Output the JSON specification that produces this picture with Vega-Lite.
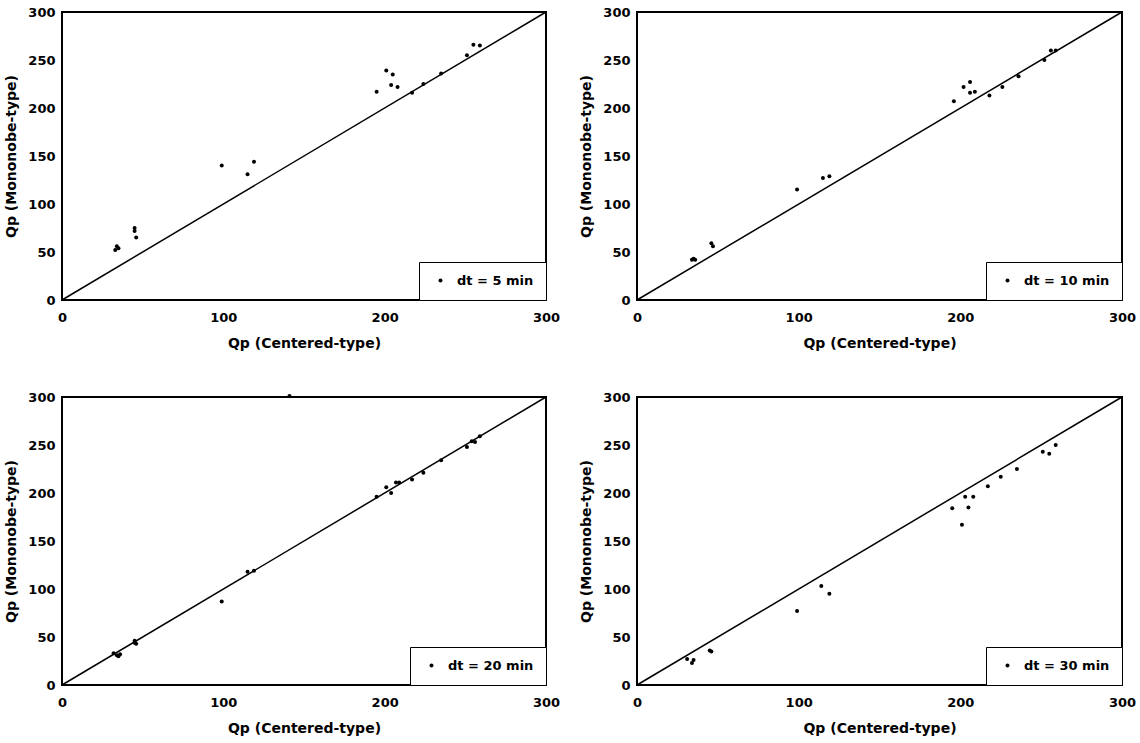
{
  "$schema": "https://vega.github.io/schema/vega-lite/v6.json",
  "autosize": {"type": "pad"},
  "padding": {"top": 5, "left": 3, "right": 5, "bottom": 5},
  "background": "white",
  "datasets": {
    "diag": [{"x": 0, "y": 0}, {"x": 300, "y": 300}],
    "p5": [
      {"x": 33, "y": 52, "dt": "dt = 5 min"}, {"x": 34, "y": 56, "dt": "dt = 5 min"}, {"x": 35, "y": 54, "dt": "dt = 5 min"},
      {"x": 45, "y": 75, "dt": "dt = 5 min"}, {"x": 45, "y": 72, "dt": "dt = 5 min"}, {"x": 46, "y": 65, "dt": "dt = 5 min"},
      {"x": 99, "y": 140, "dt": "dt = 5 min"}, {"x": 115, "y": 131, "dt": "dt = 5 min"}, {"x": 119, "y": 144, "dt": "dt = 5 min"},
      {"x": 195, "y": 217, "dt": "dt = 5 min"}, {"x": 201, "y": 239, "dt": "dt = 5 min"}, {"x": 205, "y": 235, "dt": "dt = 5 min"},
      {"x": 204, "y": 224, "dt": "dt = 5 min"}, {"x": 208, "y": 222, "dt": "dt = 5 min"}, {"x": 217, "y": 216, "dt": "dt = 5 min"},
      {"x": 224, "y": 225, "dt": "dt = 5 min"}, {"x": 235, "y": 236, "dt": "dt = 5 min"}, {"x": 251, "y": 255, "dt": "dt = 5 min"},
      {"x": 255, "y": 266, "dt": "dt = 5 min"}, {"x": 259, "y": 265, "dt": "dt = 5 min"}
    ],
    "p10": [
      {"x": 34, "y": 42, "dt": "dt = 10 min"}, {"x": 36, "y": 42, "dt": "dt = 10 min"}, {"x": 35, "y": 43, "dt": "dt = 10 min"},
      {"x": 46, "y": 59, "dt": "dt = 10 min"}, {"x": 47, "y": 56, "dt": "dt = 10 min"}, {"x": 99, "y": 115, "dt": "dt = 10 min"},
      {"x": 115, "y": 127, "dt": "dt = 10 min"}, {"x": 119, "y": 129, "dt": "dt = 10 min"}, {"x": 196, "y": 207, "dt": "dt = 10 min"},
      {"x": 202, "y": 222, "dt": "dt = 10 min"}, {"x": 206, "y": 227, "dt": "dt = 10 min"}, {"x": 206, "y": 216, "dt": "dt = 10 min"},
      {"x": 209, "y": 217, "dt": "dt = 10 min"}, {"x": 218, "y": 213, "dt": "dt = 10 min"}, {"x": 226, "y": 222, "dt": "dt = 10 min"},
      {"x": 236, "y": 233, "dt": "dt = 10 min"}, {"x": 252, "y": 250, "dt": "dt = 10 min"}, {"x": 256, "y": 260, "dt": "dt = 10 min"},
      {"x": 259, "y": 260, "dt": "dt = 10 min"}
    ],
    "p20": [
      {"x": 32, "y": 33, "dt": "dt = 20 min"}, {"x": 34, "y": 31, "dt": "dt = 20 min"}, {"x": 35, "y": 30, "dt": "dt = 20 min"},
      {"x": 36, "y": 32, "dt": "dt = 20 min"}, {"x": 45, "y": 46, "dt": "dt = 20 min"}, {"x": 46, "y": 43, "dt": "dt = 20 min"},
      {"x": 45, "y": 44, "dt": "dt = 20 min"}, {"x": 99, "y": 87, "dt": "dt = 20 min"}, {"x": 115, "y": 118, "dt": "dt = 20 min"},
      {"x": 119, "y": 119, "dt": "dt = 20 min"}, {"x": 141, "y": 301, "dt": "dt = 20 min"}, {"x": 195, "y": 196, "dt": "dt = 20 min"},
      {"x": 201, "y": 206, "dt": "dt = 20 min"}, {"x": 204, "y": 200, "dt": "dt = 20 min"}, {"x": 207, "y": 211, "dt": "dt = 20 min"},
      {"x": 209, "y": 211, "dt": "dt = 20 min"}, {"x": 217, "y": 214, "dt": "dt = 20 min"}, {"x": 224, "y": 221, "dt": "dt = 20 min"},
      {"x": 235, "y": 234, "dt": "dt = 20 min"}, {"x": 251, "y": 248, "dt": "dt = 20 min"}, {"x": 254, "y": 254, "dt": "dt = 20 min"},
      {"x": 256, "y": 253, "dt": "dt = 20 min"}, {"x": 259, "y": 259, "dt": "dt = 20 min"}
    ],
    "p30": [
      {"x": 31, "y": 27, "dt": "dt = 30 min"}, {"x": 34, "y": 23, "dt": "dt = 30 min"}, {"x": 35, "y": 26, "dt": "dt = 30 min"},
      {"x": 45, "y": 36, "dt": "dt = 30 min"}, {"x": 46, "y": 35, "dt": "dt = 30 min"}, {"x": 99, "y": 77, "dt": "dt = 30 min"},
      {"x": 114, "y": 103, "dt": "dt = 30 min"}, {"x": 119, "y": 95, "dt": "dt = 30 min"}, {"x": 195, "y": 184, "dt": "dt = 30 min"},
      {"x": 201, "y": 167, "dt": "dt = 30 min"}, {"x": 203, "y": 196, "dt": "dt = 30 min"}, {"x": 205, "y": 185, "dt": "dt = 30 min"},
      {"x": 208, "y": 196, "dt": "dt = 30 min"}, {"x": 217, "y": 207, "dt": "dt = 30 min"}, {"x": 225, "y": 217, "dt": "dt = 30 min"},
      {"x": 235, "y": 225, "dt": "dt = 30 min"}, {"x": 251, "y": 243, "dt": "dt = 30 min"}, {"x": 255, "y": 241, "dt": "dt = 30 min"},
      {"x": 259, "y": 250, "dt": "dt = 30 min"}
    ]
  },
  "config": {
    "view": {"stroke": "black", "strokeWidth": 2},
    "font": "DejaVu Sans",
    "axis": {
      "grid": false, "domain": false, "ticks": false, "tickSize": 0,
      "labelFont": "DejaVu Sans", "labelFontWeight": "bold", "labelFontSize": 13, "labelColor": "black",
      "titleFont": "DejaVu Sans", "titleFontWeight": "bold", "titleFontSize": 14, "titleColor": "black",
      "labelFlush": false, "labelOverlap": false
    },
    "axisX": {"labelPadding": 11, "titlePadding": 12},
    "axisY": {"labelPadding": 7, "titlePadding": 9},
    "legend": {
      "orient": "bottom-right", "offset": 0, "strokeColor": "black", "fillColor": "white",
      "padding": 12, "symbolOffset": 3, "labelOffset": 10, "symbolSize": 16, "symbolType": "circle",
      "labelFont": "DejaVu Sans", "labelFontWeight": "bold", "labelFontSize": 13, "labelColor": "black",
      "title": null
    }
  },
  "columns": 2,
  "spacing": {"row": 97, "column": 91},
  "bounds": "flush",
  "resolve": {"scale": {"color": "independent"}, "legend": {"color": "independent"}},
  "concat": [
    {
      "width": 484, "height": 288,
      "layer": [
        {"data": {"name": "diag"}, "mark": {"type": "line", "color": "black", "strokeWidth": 1.5},
         "encoding": {
           "x": {"field": "x", "type": "quantitative", "scale": {"domain": [0, 300], "nice": false}, "axis": {"values": [0, 100, 200, 300], "title": "Qp (Centered-type)"}},
           "y": {"field": "y", "type": "quantitative", "scale": {"domain": [0, 300], "nice": false}, "axis": {"values": [0, 50, 100, 150, 200, 250, 300], "title": "Qp (Mononobe-type)"}}
         }},
        {"data": {"name": "p5"}, "mark": {"type": "circle", "size": 16, "opacity": 1},
         "encoding": {
           "x": {"field": "x", "type": "quantitative"},
           "y": {"field": "y", "type": "quantitative"},
           "color": {"field": "dt", "type": "nominal", "scale": {"range": ["black"]}, "legend": {"title": null}}
         }}
      ]
    },
    {
      "width": 485, "height": 288,
      "layer": [
        {"data": {"name": "diag"}, "mark": {"type": "line", "color": "black", "strokeWidth": 1.5},
         "encoding": {
           "x": {"field": "x", "type": "quantitative", "scale": {"domain": [0, 300], "nice": false}, "axis": {"values": [0, 100, 200, 300], "title": "Qp (Centered-type)"}},
           "y": {"field": "y", "type": "quantitative", "scale": {"domain": [0, 300], "nice": false}, "axis": {"values": [0, 50, 100, 150, 200, 250, 300], "title": "Qp (Mononobe-type)"}}
         }},
        {"data": {"name": "p10"}, "mark": {"type": "circle", "size": 16, "opacity": 1},
         "encoding": {
           "x": {"field": "x", "type": "quantitative"},
           "y": {"field": "y", "type": "quantitative"},
           "color": {"field": "dt", "type": "nominal", "scale": {"range": ["black"]}, "legend": {"title": null}}
         }}
      ]
    },
    {
      "width": 484, "height": 288,
      "layer": [
        {"data": {"name": "diag"}, "mark": {"type": "line", "color": "black", "strokeWidth": 1.5},
         "encoding": {
           "x": {"field": "x", "type": "quantitative", "scale": {"domain": [0, 300], "nice": false}, "axis": {"values": [0, 100, 200, 300], "title": "Qp (Centered-type)"}},
           "y": {"field": "y", "type": "quantitative", "scale": {"domain": [0, 300], "nice": false}, "axis": {"values": [0, 50, 100, 150, 200, 250, 300], "title": "Qp (Mononobe-type)"}}
         }},
        {"data": {"name": "p20"}, "mark": {"type": "circle", "size": 16, "opacity": 1},
         "encoding": {
           "x": {"field": "x", "type": "quantitative"},
           "y": {"field": "y", "type": "quantitative"},
           "color": {"field": "dt", "type": "nominal", "scale": {"range": ["black"]}, "legend": {"title": null}}
         }}
      ]
    },
    {
      "width": 485, "height": 288,
      "layer": [
        {"data": {"name": "diag"}, "mark": {"type": "line", "color": "black", "strokeWidth": 1.5},
         "encoding": {
           "x": {"field": "x", "type": "quantitative", "scale": {"domain": [0, 300], "nice": false}, "axis": {"values": [0, 100, 200, 300], "title": "Qp (Centered-type)"}},
           "y": {"field": "y", "type": "quantitative", "scale": {"domain": [0, 300], "nice": false}, "axis": {"values": [0, 50, 100, 150, 200, 250, 300], "title": "Qp (Mononobe-type)"}}
         }},
        {"data": {"name": "p30"}, "mark": {"type": "circle", "size": 16, "opacity": 1},
         "encoding": {
           "x": {"field": "x", "type": "quantitative"},
           "y": {"field": "y", "type": "quantitative"},
           "color": {"field": "dt", "type": "nominal", "scale": {"range": ["black"]}, "legend": {"title": null}}
         }}
      ]
    }
  ]
}
